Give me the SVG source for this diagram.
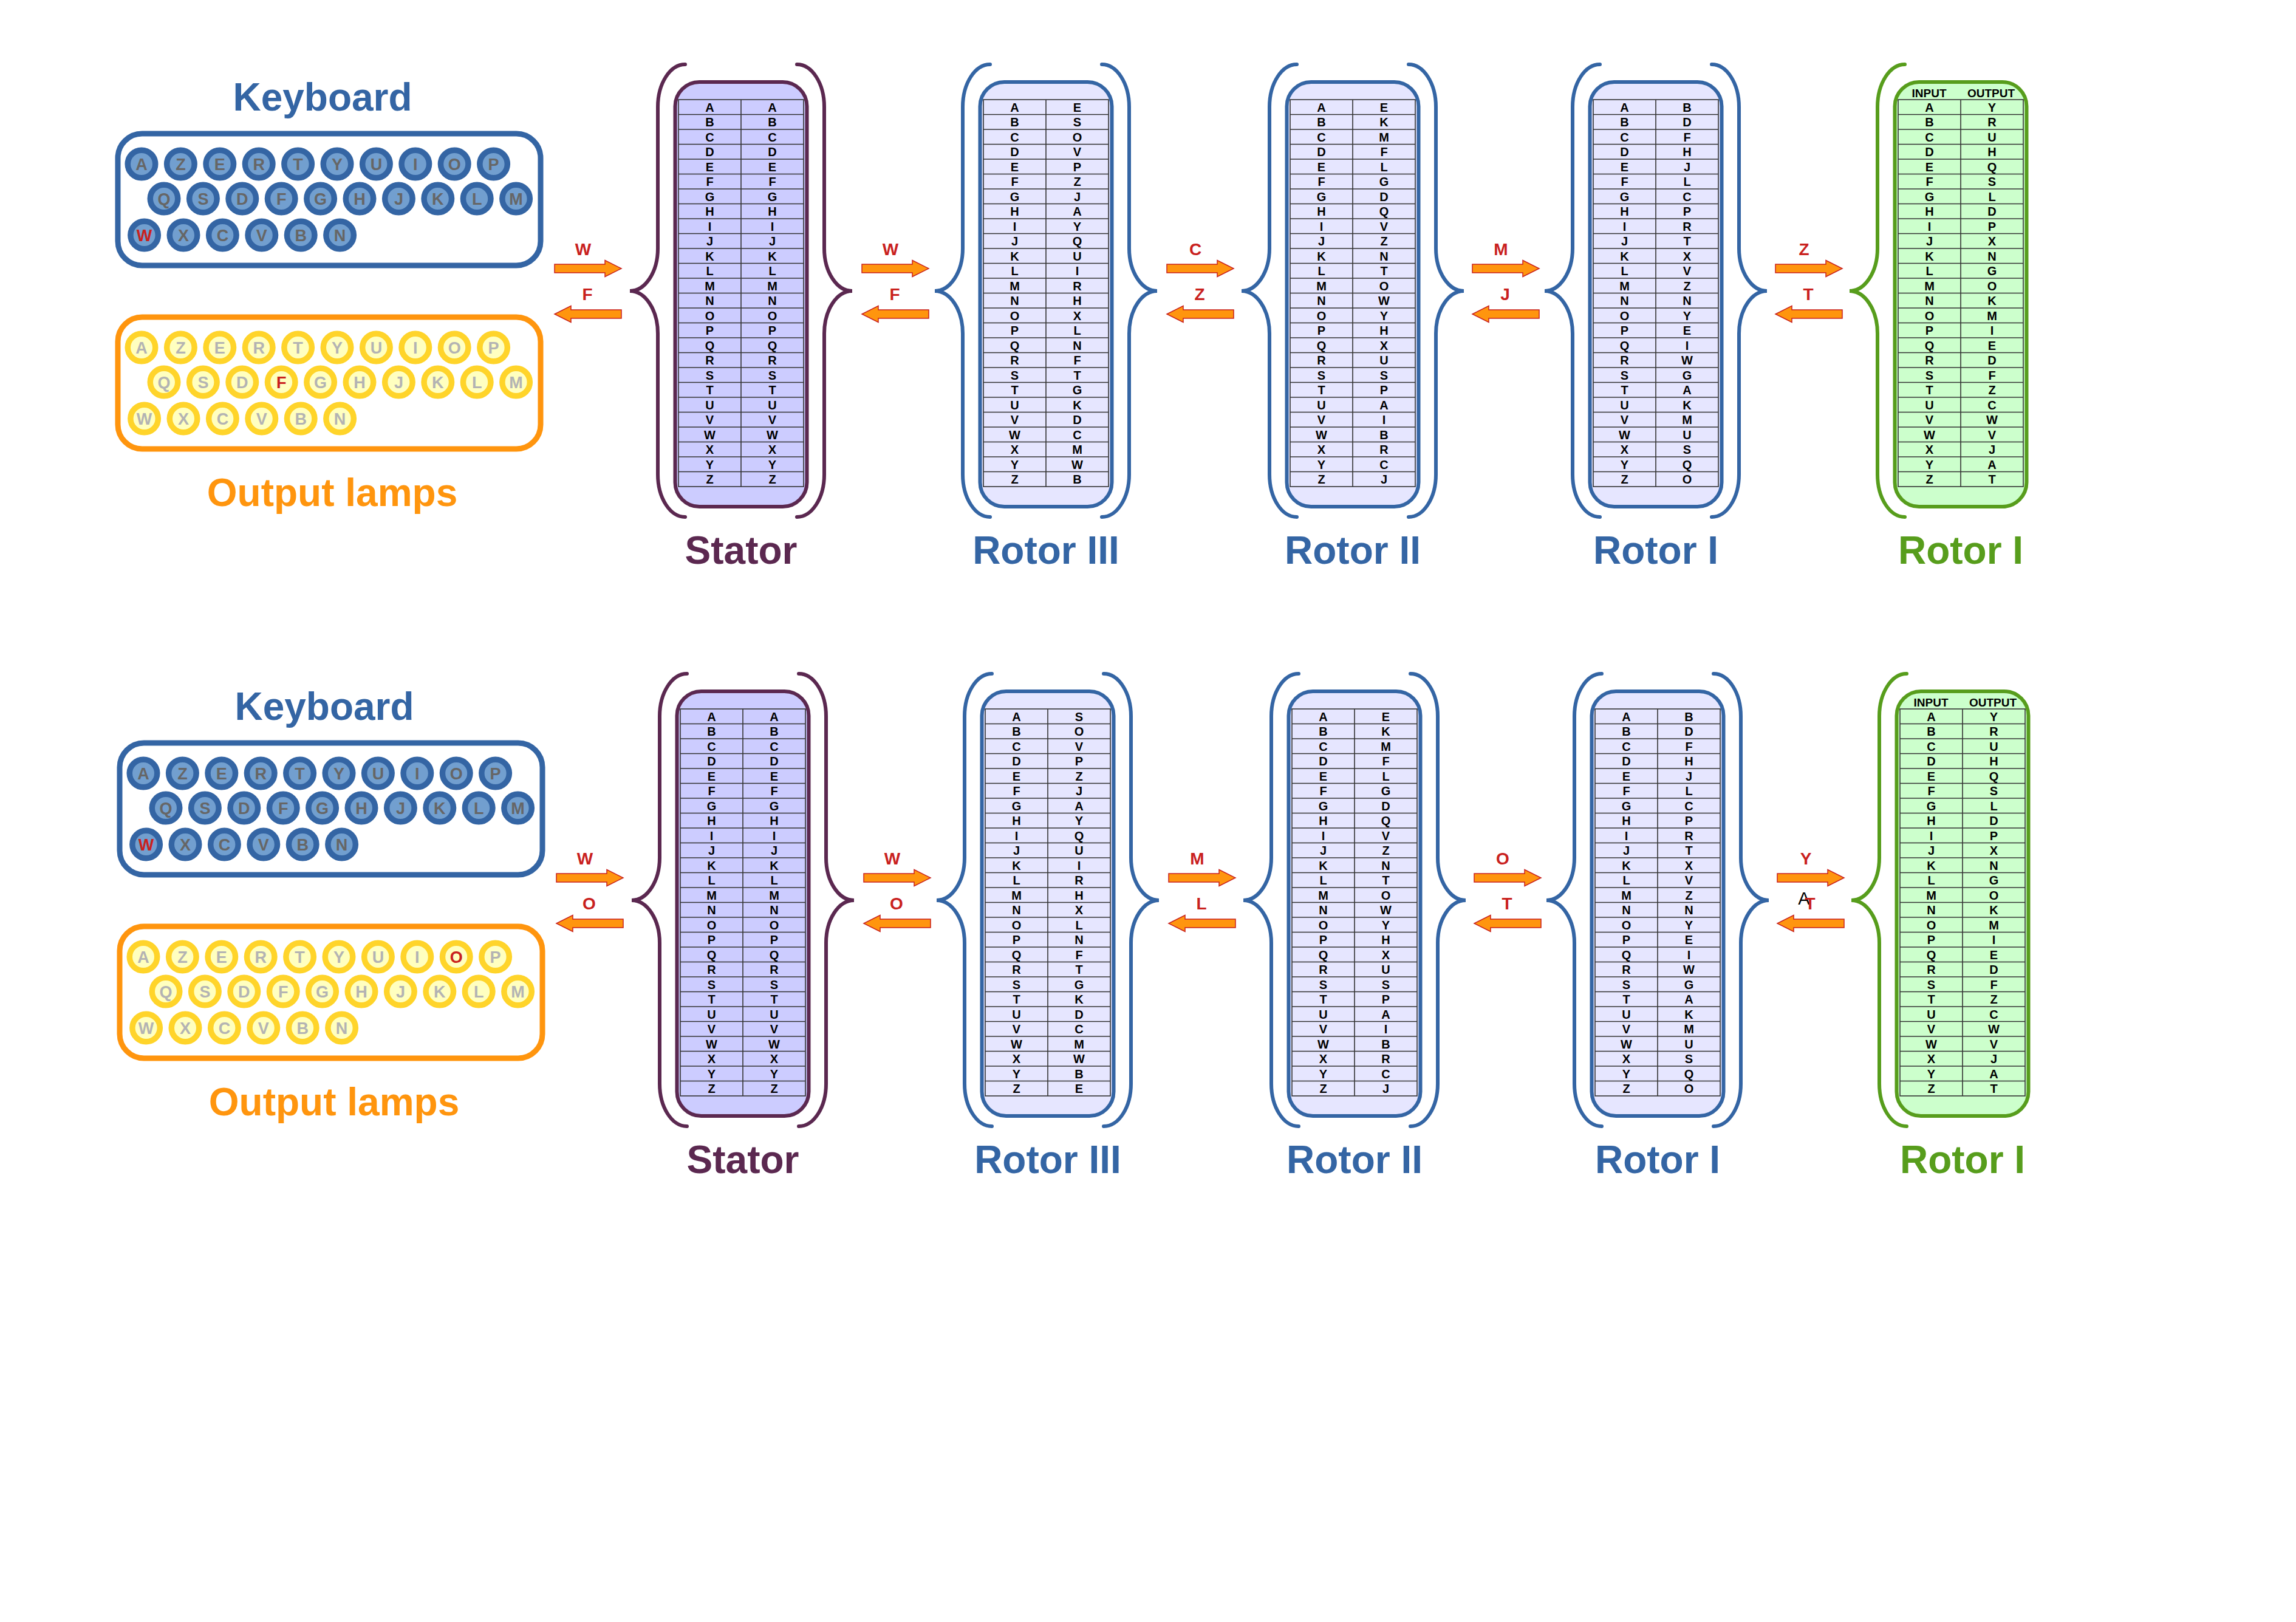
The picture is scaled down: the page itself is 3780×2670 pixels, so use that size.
<svg xmlns="http://www.w3.org/2000/svg" xmlns:xlink="http://www.w3.org/1999/xlink" width="3780" height="2670" viewBox="0 0 3780 2670">
<style>
text{font-family:"Liberation Sans",Arial,sans-serif}
.title{font-size:64px;font-weight:bold;text-anchor:middle}
.kb{fill:#3465a4}
.ol{fill:#ff950e}
.panel{fill:#fff;stroke-width:9}
.kring{fill:#729fcf;stroke:#3465a4;stroke-width:9.5}
.lring{fill:#ffffc0;stroke:#ffd42a;stroke-width:9.5}
.kl{font-size:27px;font-weight:bold;text-anchor:middle;fill:#666}
.ll{font-size:27px;font-weight:bold;text-anchor:middle;fill:#b3b3b3}
.hot{fill:#c9211e}
.tbl text{font-size:20px;font-weight:bold;text-anchor:middle;fill:#000}
.grid{fill:none;stroke:#333;stroke-width:1.6}
.brace{fill:none;stroke-width:6;stroke-linecap:round}
.arrow{fill:#ff950e;stroke:#c9211e;stroke-width:1.5}
.al{font-size:28px;font-weight:bold;text-anchor:middle;fill:#c9211e}
.pur{stroke:#5b2850}.blu{stroke:#3465a4}.grn{stroke:#579d1c}
</style>
<defs>
<circle id="key" r="22.75"/>
<path id="braceL" d="M-92,106A45 70 0 0 0 -137,176L-137,409A46 70 0 0 1 -183,479A46 70 0 0 1 -137,549L-137,781A45 70 0 0 0 -92,851"/>
<g id="grid" class="grid"><rect x="-103" y="164" width="206" height="637"/><path d="M0,164V801M-103,188.5H103M-103,213H103M-103,237.5H103M-103,262H103M-103,286.5H103M-103,311H103M-103,335.5H103M-103,360H103M-103,384.5H103M-103,409H103M-103,433.5H103M-103,458H103M-103,482.5H103M-103,507H103M-103,531.5H103M-103,556H103M-103,580.5H103M-103,605H103M-103,629.5H103M-103,654H103M-103,678.5H103M-103,703H103M-103,727.5H103M-103,752H103M-103,776.5H103"/></g>
<path id="arR" d="M0,-7H83V-13.5L110,0L83,13.5V7H0Z"/>
<path id="arL" d="M110,-7H27V-13.5L0,0L27,13.5V7H110Z"/>
</defs>
<rect width="3780" height="2670" fill="#fff"/>

<!-- ============ TOP ROW ============ -->
<g id="keyboard-1">
<text class="title kb" x="531" y="182">Keyboard</text>
<rect class="panel" x="194" y="220" width="696" height="217" rx="40" stroke="#3465a4"/>
<use href="#key" class="kring" x="233" y="270"/><use href="#key" class="kring" x="297.4" y="270"/><use href="#key" class="kring" x="361.8" y="270"/><use href="#key" class="kring" x="426.2" y="270"/><use href="#key" class="kring" x="490.6" y="270"/><use href="#key" class="kring" x="555" y="270"/><use href="#key" class="kring" x="619.4" y="270"/><use href="#key" class="kring" x="683.8" y="270"/><use href="#key" class="kring" x="748.2" y="270"/><use href="#key" class="kring" x="812.6" y="270"/>
<use href="#key" class="kring" x="270" y="327"/><use href="#key" class="kring" x="334.4" y="327"/><use href="#key" class="kring" x="398.8" y="327"/><use href="#key" class="kring" x="463.2" y="327"/><use href="#key" class="kring" x="527.6" y="327"/><use href="#key" class="kring" x="592" y="327"/><use href="#key" class="kring" x="656.4" y="327"/><use href="#key" class="kring" x="720.8" y="327"/><use href="#key" class="kring" x="785.2" y="327"/><use href="#key" class="kring" x="849.6" y="327"/>
<use href="#key" class="kring" x="237.6" y="387"/><use href="#key" class="kring" x="302" y="387"/><use href="#key" class="kring" x="366.4" y="387"/><use href="#key" class="kring" x="430.8" y="387"/><use href="#key" class="kring" x="495.2" y="387"/><use href="#key" class="kring" x="559.6" y="387"/>
<text class="kl" x="233" y="279.7">A</text><text class="kl" x="297.4" y="279.7">Z</text><text class="kl" x="361.8" y="279.7">E</text><text class="kl" x="426.2" y="279.7">R</text><text class="kl" x="490.6" y="279.7">T</text><text class="kl" x="555" y="279.7">Y</text><text class="kl" x="619.4" y="279.7">U</text><text class="kl" x="683.8" y="279.7">I</text><text class="kl" x="748.2" y="279.7">O</text><text class="kl" x="812.6" y="279.7">P</text>
<text class="kl" x="270" y="336.7">Q</text><text class="kl" x="334.4" y="336.7">S</text><text class="kl" x="398.8" y="336.7">D</text><text class="kl" x="463.2" y="336.7">F</text><text class="kl" x="527.6" y="336.7">G</text><text class="kl" x="592" y="336.7">H</text><text class="kl" x="656.4" y="336.7">J</text><text class="kl" x="720.8" y="336.7">K</text><text class="kl" x="785.2" y="336.7">L</text><text class="kl" x="849.6" y="336.7">M</text>
<text class="kl hot" x="237.6" y="396.7">W</text><text class="kl" x="302" y="396.7">X</text><text class="kl" x="366.4" y="396.7">C</text><text class="kl" x="430.8" y="396.7">V</text><text class="kl" x="495.2" y="396.7">B</text><text class="kl" x="559.6" y="396.7">N</text>
</g>

<g id="lamps-1">
<rect class="panel" x="194" y="522" width="696" height="217" rx="40" stroke="#ff950e"/>
<use href="#key" class="lring" x="233" y="572"/><use href="#key" class="lring" x="297.4" y="572"/><use href="#key" class="lring" x="361.8" y="572"/><use href="#key" class="lring" x="426.2" y="572"/><use href="#key" class="lring" x="490.6" y="572"/><use href="#key" class="lring" x="555" y="572"/><use href="#key" class="lring" x="619.4" y="572"/><use href="#key" class="lring" x="683.8" y="572"/><use href="#key" class="lring" x="748.2" y="572"/><use href="#key" class="lring" x="812.6" y="572"/>
<use href="#key" class="lring" x="270" y="629"/><use href="#key" class="lring" x="334.4" y="629"/><use href="#key" class="lring" x="398.8" y="629"/><use href="#key" class="lring" x="463.2" y="629"/><use href="#key" class="lring" x="527.6" y="629"/><use href="#key" class="lring" x="592" y="629"/><use href="#key" class="lring" x="656.4" y="629"/><use href="#key" class="lring" x="720.8" y="629"/><use href="#key" class="lring" x="785.2" y="629"/><use href="#key" class="lring" x="849.6" y="629"/>
<use href="#key" class="lring" x="237.6" y="689"/><use href="#key" class="lring" x="302" y="689"/><use href="#key" class="lring" x="366.4" y="689"/><use href="#key" class="lring" x="430.8" y="689"/><use href="#key" class="lring" x="495.2" y="689"/><use href="#key" class="lring" x="559.6" y="689"/>
<text class="ll" x="233" y="581.7">A</text><text class="ll" x="297.4" y="581.7">Z</text><text class="ll" x="361.8" y="581.7">E</text><text class="ll" x="426.2" y="581.7">R</text><text class="ll" x="490.6" y="581.7">T</text><text class="ll" x="555" y="581.7">Y</text><text class="ll" x="619.4" y="581.7">U</text><text class="ll" x="683.8" y="581.7">I</text><text class="ll" x="748.2" y="581.7">O</text><text class="ll" x="812.6" y="581.7">P</text>
<text class="ll" x="270" y="638.7">Q</text><text class="ll" x="334.4" y="638.7">S</text><text class="ll" x="398.8" y="638.7">D</text><text class="ll hot" x="463.2" y="638.7">F</text><text class="ll" x="527.6" y="638.7">G</text><text class="ll" x="592" y="638.7">H</text><text class="ll" x="656.4" y="638.7">J</text><text class="ll" x="720.8" y="638.7">K</text><text class="ll" x="785.2" y="638.7">L</text><text class="ll" x="849.6" y="638.7">M</text>
<text class="ll" x="237.6" y="698.7">W</text><text class="ll" x="302" y="698.7">X</text><text class="ll" x="366.4" y="698.7">C</text><text class="ll" x="430.8" y="698.7">V</text><text class="ll" x="495.2" y="698.7">B</text><text class="ll" x="559.6" y="698.7">N</text>
<text class="title ol" x="547" y="833">Output lamps</text>
</g>

<g id="stator-1" transform="translate(1220,0)">
<rect x="-108.5" y="135" width="217" height="699" rx="40" fill="#ccccff" stroke="#5b2850" stroke-width="6"/>
<g class="tbl"><use href="#grid"/>
<g transform="translate(-51.5,0)"><text y="183.5">A</text><text y="208">B</text><text y="232.5">C</text><text y="257">D</text><text y="281.5">E</text><text y="306">F</text><text y="330.5">G</text><text y="355">H</text><text y="379.5">I</text><text y="404">J</text><text y="428.5">K</text><text y="453">L</text><text y="477.5">M</text><text y="502">N</text><text y="526.5">O</text><text y="551">P</text><text y="575.5">Q</text><text y="600">R</text><text y="624.5">S</text><text y="649">T</text><text y="673.5">U</text><text y="698">V</text><text y="722.5">W</text><text y="747">X</text><text y="771.5">Y</text><text y="796">Z</text></g>
<g transform="translate(51.5,0)"><text y="183.5">A</text><text y="208">B</text><text y="232.5">C</text><text y="257">D</text><text y="281.5">E</text><text y="306">F</text><text y="330.5">G</text><text y="355">H</text><text y="379.5">I</text><text y="404">J</text><text y="428.5">K</text><text y="453">L</text><text y="477.5">M</text><text y="502">N</text><text y="526.5">O</text><text y="551">P</text><text y="575.5">Q</text><text y="600">R</text><text y="624.5">S</text><text y="649">T</text><text y="673.5">U</text><text y="698">V</text><text y="722.5">W</text><text y="747">X</text><text y="771.5">Y</text><text y="796">Z</text></g>
</g>
<use href="#braceL" class="brace pur"/><use href="#braceL" class="brace pur" transform="scale(-1,1)"/>
<text class="title" y="928" fill="#5b2850">Stator</text>
</g>

<g id="rotor3-1" transform="translate(1722,0)">
<rect x="-108.5" y="135" width="217" height="699" rx="40" fill="#e6e6ff" stroke="#3465a4" stroke-width="6"/>
<g class="tbl"><use href="#grid"/>
<g transform="translate(-51.5,0)"><text y="183.5">A</text><text y="208">B</text><text y="232.5">C</text><text y="257">D</text><text y="281.5">E</text><text y="306">F</text><text y="330.5">G</text><text y="355">H</text><text y="379.5">I</text><text y="404">J</text><text y="428.5">K</text><text y="453">L</text><text y="477.5">M</text><text y="502">N</text><text y="526.5">O</text><text y="551">P</text><text y="575.5">Q</text><text y="600">R</text><text y="624.5">S</text><text y="649">T</text><text y="673.5">U</text><text y="698">V</text><text y="722.5">W</text><text y="747">X</text><text y="771.5">Y</text><text y="796">Z</text></g>
<g transform="translate(51.5,0)"><text y="183.5">E</text><text y="208">S</text><text y="232.5">O</text><text y="257">V</text><text y="281.5">P</text><text y="306">Z</text><text y="330.5">J</text><text y="355">A</text><text y="379.5">Y</text><text y="404">Q</text><text y="428.5">U</text><text y="453">I</text><text y="477.5">R</text><text y="502">H</text><text y="526.5">X</text><text y="551">L</text><text y="575.5">N</text><text y="600">F</text><text y="624.5">T</text><text y="649">G</text><text y="673.5">K</text><text y="698">D</text><text y="722.5">C</text><text y="747">M</text><text y="771.5">W</text><text y="796">B</text></g>
</g>
<use href="#braceL" class="brace blu"/><use href="#braceL" class="brace blu" transform="scale(-1,1)"/>
<text class="title kb" y="928">Rotor III</text>
</g>

<g id="rotor2-1" transform="translate(2227,0)">
<rect x="-108.5" y="135" width="217" height="699" rx="40" fill="#e6e6ff" stroke="#3465a4" stroke-width="6"/>
<g class="tbl"><use href="#grid"/>
<g transform="translate(-51.5,0)"><text y="183.5">A</text><text y="208">B</text><text y="232.5">C</text><text y="257">D</text><text y="281.5">E</text><text y="306">F</text><text y="330.5">G</text><text y="355">H</text><text y="379.5">I</text><text y="404">J</text><text y="428.5">K</text><text y="453">L</text><text y="477.5">M</text><text y="502">N</text><text y="526.5">O</text><text y="551">P</text><text y="575.5">Q</text><text y="600">R</text><text y="624.5">S</text><text y="649">T</text><text y="673.5">U</text><text y="698">V</text><text y="722.5">W</text><text y="747">X</text><text y="771.5">Y</text><text y="796">Z</text></g>
<g transform="translate(51.5,0)"><text y="183.5">E</text><text y="208">K</text><text y="232.5">M</text><text y="257">F</text><text y="281.5">L</text><text y="306">G</text><text y="330.5">D</text><text y="355">Q</text><text y="379.5">V</text><text y="404">Z</text><text y="428.5">N</text><text y="453">T</text><text y="477.5">O</text><text y="502">W</text><text y="526.5">Y</text><text y="551">H</text><text y="575.5">X</text><text y="600">U</text><text y="624.5">S</text><text y="649">P</text><text y="673.5">A</text><text y="698">I</text><text y="722.5">B</text><text y="747">R</text><text y="771.5">C</text><text y="796">J</text></g>
</g>
<use href="#braceL" class="brace blu"/><use href="#braceL" class="brace blu" transform="scale(-1,1)"/>
<text class="title kb" y="928">Rotor II</text>
</g>

<g id="rotor1-1" transform="translate(2726,0)">
<rect x="-108.5" y="135" width="217" height="699" rx="40" fill="#e6e6ff" stroke="#3465a4" stroke-width="6"/>
<g class="tbl"><use href="#grid"/>
<g transform="translate(-51.5,0)"><text y="183.5">A</text><text y="208">B</text><text y="232.5">C</text><text y="257">D</text><text y="281.5">E</text><text y="306">F</text><text y="330.5">G</text><text y="355">H</text><text y="379.5">I</text><text y="404">J</text><text y="428.5">K</text><text y="453">L</text><text y="477.5">M</text><text y="502">N</text><text y="526.5">O</text><text y="551">P</text><text y="575.5">Q</text><text y="600">R</text><text y="624.5">S</text><text y="649">T</text><text y="673.5">U</text><text y="698">V</text><text y="722.5">W</text><text y="747">X</text><text y="771.5">Y</text><text y="796">Z</text></g>
<g transform="translate(51.5,0)"><text y="183.5">B</text><text y="208">D</text><text y="232.5">F</text><text y="257">H</text><text y="281.5">J</text><text y="306">L</text><text y="330.5">C</text><text y="355">P</text><text y="379.5">R</text><text y="404">T</text><text y="428.5">X</text><text y="453">V</text><text y="477.5">Z</text><text y="502">N</text><text y="526.5">Y</text><text y="551">E</text><text y="575.5">I</text><text y="600">W</text><text y="624.5">G</text><text y="649">A</text><text y="673.5">K</text><text y="698">M</text><text y="722.5">U</text><text y="747">S</text><text y="771.5">Q</text><text y="796">O</text></g>
</g>
<use href="#braceL" class="brace blu"/><use href="#braceL" class="brace blu" transform="scale(-1,1)"/>
<text class="title kb" y="928">Rotor I</text>
</g>

<g id="reflector-1" transform="translate(3228,0)">
<rect x="-108.5" y="135" width="217" height="699" rx="40" fill="#ccffcc" stroke="#579d1c" stroke-width="6"/>
<g class="tbl"><use href="#grid"/>
<text x="-52" y="160" style="font-size:19px">INPUT</text><text x="50" y="160" style="font-size:19px">OUTPUT</text>
<g transform="translate(-51.5,0)"><text y="183.5">A</text><text y="208">B</text><text y="232.5">C</text><text y="257">D</text><text y="281.5">E</text><text y="306">F</text><text y="330.5">G</text><text y="355">H</text><text y="379.5">I</text><text y="404">J</text><text y="428.5">K</text><text y="453">L</text><text y="477.5">M</text><text y="502">N</text><text y="526.5">O</text><text y="551">P</text><text y="575.5">Q</text><text y="600">R</text><text y="624.5">S</text><text y="649">T</text><text y="673.5">U</text><text y="698">V</text><text y="722.5">W</text><text y="747">X</text><text y="771.5">Y</text><text y="796">Z</text></g>
<g transform="translate(51.5,0)"><text y="183.5">Y</text><text y="208">R</text><text y="232.5">U</text><text y="257">H</text><text y="281.5">Q</text><text y="306">S</text><text y="330.5">L</text><text y="355">D</text><text y="379.5">P</text><text y="404">X</text><text y="428.5">N</text><text y="453">G</text><text y="477.5">O</text><text y="502">K</text><text y="526.5">M</text><text y="551">I</text><text y="575.5">E</text><text y="600">D</text><text y="624.5">F</text><text y="649">Z</text><text y="673.5">C</text><text y="698">W</text><text y="722.5">V</text><text y="747">J</text><text y="771.5">A</text><text y="796">T</text></g>
</g>
<use href="#braceL" class="brace grn"/>
<text class="title" y="928" fill="#579d1c">Rotor I</text>
</g>

<!-- ============ BOTTOM ROW ============ -->
<g transform="translate(3,1003)">
<g id="keyboard-2">
<text class="title kb" x="531" y="182">Keyboard</text>
<rect class="panel" x="194" y="220" width="696" height="217" rx="40" stroke="#3465a4"/>
<use href="#key" class="kring" x="233" y="270"/><use href="#key" class="kring" x="297.4" y="270"/><use href="#key" class="kring" x="361.8" y="270"/><use href="#key" class="kring" x="426.2" y="270"/><use href="#key" class="kring" x="490.6" y="270"/><use href="#key" class="kring" x="555" y="270"/><use href="#key" class="kring" x="619.4" y="270"/><use href="#key" class="kring" x="683.8" y="270"/><use href="#key" class="kring" x="748.2" y="270"/><use href="#key" class="kring" x="812.6" y="270"/>
<use href="#key" class="kring" x="270" y="327"/><use href="#key" class="kring" x="334.4" y="327"/><use href="#key" class="kring" x="398.8" y="327"/><use href="#key" class="kring" x="463.2" y="327"/><use href="#key" class="kring" x="527.6" y="327"/><use href="#key" class="kring" x="592" y="327"/><use href="#key" class="kring" x="656.4" y="327"/><use href="#key" class="kring" x="720.8" y="327"/><use href="#key" class="kring" x="785.2" y="327"/><use href="#key" class="kring" x="849.6" y="327"/>
<use href="#key" class="kring" x="237.6" y="387"/><use href="#key" class="kring" x="302" y="387"/><use href="#key" class="kring" x="366.4" y="387"/><use href="#key" class="kring" x="430.8" y="387"/><use href="#key" class="kring" x="495.2" y="387"/><use href="#key" class="kring" x="559.6" y="387"/>
<text class="kl" x="233" y="279.7">A</text><text class="kl" x="297.4" y="279.7">Z</text><text class="kl" x="361.8" y="279.7">E</text><text class="kl" x="426.2" y="279.7">R</text><text class="kl" x="490.6" y="279.7">T</text><text class="kl" x="555" y="279.7">Y</text><text class="kl" x="619.4" y="279.7">U</text><text class="kl" x="683.8" y="279.7">I</text><text class="kl" x="748.2" y="279.7">O</text><text class="kl" x="812.6" y="279.7">P</text>
<text class="kl" x="270" y="336.7">Q</text><text class="kl" x="334.4" y="336.7">S</text><text class="kl" x="398.8" y="336.7">D</text><text class="kl" x="463.2" y="336.7">F</text><text class="kl" x="527.6" y="336.7">G</text><text class="kl" x="592" y="336.7">H</text><text class="kl" x="656.4" y="336.7">J</text><text class="kl" x="720.8" y="336.7">K</text><text class="kl" x="785.2" y="336.7">L</text><text class="kl" x="849.6" y="336.7">M</text>
<text class="kl hot" x="237.6" y="396.7">W</text><text class="kl" x="302" y="396.7">X</text><text class="kl" x="366.4" y="396.7">C</text><text class="kl" x="430.8" y="396.7">V</text><text class="kl" x="495.2" y="396.7">B</text><text class="kl" x="559.6" y="396.7">N</text>
</g>

<g id="lamps-2">
<rect class="panel" x="194" y="522" width="696" height="217" rx="40" stroke="#ff950e"/>
<use href="#key" class="lring" x="233" y="572"/><use href="#key" class="lring" x="297.4" y="572"/><use href="#key" class="lring" x="361.8" y="572"/><use href="#key" class="lring" x="426.2" y="572"/><use href="#key" class="lring" x="490.6" y="572"/><use href="#key" class="lring" x="555" y="572"/><use href="#key" class="lring" x="619.4" y="572"/><use href="#key" class="lring" x="683.8" y="572"/><use href="#key" class="lring" x="748.2" y="572"/><use href="#key" class="lring" x="812.6" y="572"/>
<use href="#key" class="lring" x="270" y="629"/><use href="#key" class="lring" x="334.4" y="629"/><use href="#key" class="lring" x="398.8" y="629"/><use href="#key" class="lring" x="463.2" y="629"/><use href="#key" class="lring" x="527.6" y="629"/><use href="#key" class="lring" x="592" y="629"/><use href="#key" class="lring" x="656.4" y="629"/><use href="#key" class="lring" x="720.8" y="629"/><use href="#key" class="lring" x="785.2" y="629"/><use href="#key" class="lring" x="849.6" y="629"/>
<use href="#key" class="lring" x="237.6" y="689"/><use href="#key" class="lring" x="302" y="689"/><use href="#key" class="lring" x="366.4" y="689"/><use href="#key" class="lring" x="430.8" y="689"/><use href="#key" class="lring" x="495.2" y="689"/><use href="#key" class="lring" x="559.6" y="689"/>
<text class="ll" x="233" y="581.7">A</text><text class="ll" x="297.4" y="581.7">Z</text><text class="ll" x="361.8" y="581.7">E</text><text class="ll" x="426.2" y="581.7">R</text><text class="ll" x="490.6" y="581.7">T</text><text class="ll" x="555" y="581.7">Y</text><text class="ll" x="619.4" y="581.7">U</text><text class="ll" x="683.8" y="581.7">I</text><text class="ll hot" x="748.2" y="581.7">O</text><text class="ll" x="812.6" y="581.7">P</text>
<text class="ll" x="270" y="638.7">Q</text><text class="ll" x="334.4" y="638.7">S</text><text class="ll" x="398.8" y="638.7">D</text><text class="ll" x="463.2" y="638.7">F</text><text class="ll" x="527.6" y="638.7">G</text><text class="ll" x="592" y="638.7">H</text><text class="ll" x="656.4" y="638.7">J</text><text class="ll" x="720.8" y="638.7">K</text><text class="ll" x="785.2" y="638.7">L</text><text class="ll" x="849.6" y="638.7">M</text>
<text class="ll" x="237.6" y="698.7">W</text><text class="ll" x="302" y="698.7">X</text><text class="ll" x="366.4" y="698.7">C</text><text class="ll" x="430.8" y="698.7">V</text><text class="ll" x="495.2" y="698.7">B</text><text class="ll" x="559.6" y="698.7">N</text>
<text class="title ol" x="547" y="833">Output lamps</text>
</g>

<g id="stator-2" transform="translate(1220,0)">
<rect x="-108.5" y="135" width="217" height="699" rx="40" fill="#ccccff" stroke="#5b2850" stroke-width="6"/>
<g class="tbl"><use href="#grid"/>
<g transform="translate(-51.5,0)"><text y="183.5">A</text><text y="208">B</text><text y="232.5">C</text><text y="257">D</text><text y="281.5">E</text><text y="306">F</text><text y="330.5">G</text><text y="355">H</text><text y="379.5">I</text><text y="404">J</text><text y="428.5">K</text><text y="453">L</text><text y="477.5">M</text><text y="502">N</text><text y="526.5">O</text><text y="551">P</text><text y="575.5">Q</text><text y="600">R</text><text y="624.5">S</text><text y="649">T</text><text y="673.5">U</text><text y="698">V</text><text y="722.5">W</text><text y="747">X</text><text y="771.5">Y</text><text y="796">Z</text></g>
<g transform="translate(51.5,0)"><text y="183.5">A</text><text y="208">B</text><text y="232.5">C</text><text y="257">D</text><text y="281.5">E</text><text y="306">F</text><text y="330.5">G</text><text y="355">H</text><text y="379.5">I</text><text y="404">J</text><text y="428.5">K</text><text y="453">L</text><text y="477.5">M</text><text y="502">N</text><text y="526.5">O</text><text y="551">P</text><text y="575.5">Q</text><text y="600">R</text><text y="624.5">S</text><text y="649">T</text><text y="673.5">U</text><text y="698">V</text><text y="722.5">W</text><text y="747">X</text><text y="771.5">Y</text><text y="796">Z</text></g>
</g>
<use href="#braceL" class="brace pur"/><use href="#braceL" class="brace pur" transform="scale(-1,1)"/>
<text class="title" y="928" fill="#5b2850">Stator</text>
</g>

<g id="rotor3-2" transform="translate(1722,0)">
<rect x="-108.5" y="135" width="217" height="699" rx="40" fill="#e6e6ff" stroke="#3465a4" stroke-width="6"/>
<g class="tbl"><use href="#grid"/>
<g transform="translate(-51.5,0)"><text y="183.5">A</text><text y="208">B</text><text y="232.5">C</text><text y="257">D</text><text y="281.5">E</text><text y="306">F</text><text y="330.5">G</text><text y="355">H</text><text y="379.5">I</text><text y="404">J</text><text y="428.5">K</text><text y="453">L</text><text y="477.5">M</text><text y="502">N</text><text y="526.5">O</text><text y="551">P</text><text y="575.5">Q</text><text y="600">R</text><text y="624.5">S</text><text y="649">T</text><text y="673.5">U</text><text y="698">V</text><text y="722.5">W</text><text y="747">X</text><text y="771.5">Y</text><text y="796">Z</text></g>
<g transform="translate(51.5,0)"><text y="183.5">S</text><text y="208">O</text><text y="232.5">V</text><text y="257">P</text><text y="281.5">Z</text><text y="306">J</text><text y="330.5">A</text><text y="355">Y</text><text y="379.5">Q</text><text y="404">U</text><text y="428.5">I</text><text y="453">R</text><text y="477.5">H</text><text y="502">X</text><text y="526.5">L</text><text y="551">N</text><text y="575.5">F</text><text y="600">T</text><text y="624.5">G</text><text y="649">K</text><text y="673.5">D</text><text y="698">C</text><text y="722.5">M</text><text y="747">W</text><text y="771.5">B</text><text y="796">E</text></g>
</g>
<use href="#braceL" class="brace blu"/><use href="#braceL" class="brace blu" transform="scale(-1,1)"/>
<text class="title kb" y="928">Rotor III</text>
</g>

<g id="rotor2-2" transform="translate(2227,0)">
<rect x="-108.5" y="135" width="217" height="699" rx="40" fill="#e6e6ff" stroke="#3465a4" stroke-width="6"/>
<g class="tbl"><use href="#grid"/>
<g transform="translate(-51.5,0)"><text y="183.5">A</text><text y="208">B</text><text y="232.5">C</text><text y="257">D</text><text y="281.5">E</text><text y="306">F</text><text y="330.5">G</text><text y="355">H</text><text y="379.5">I</text><text y="404">J</text><text y="428.5">K</text><text y="453">L</text><text y="477.5">M</text><text y="502">N</text><text y="526.5">O</text><text y="551">P</text><text y="575.5">Q</text><text y="600">R</text><text y="624.5">S</text><text y="649">T</text><text y="673.5">U</text><text y="698">V</text><text y="722.5">W</text><text y="747">X</text><text y="771.5">Y</text><text y="796">Z</text></g>
<g transform="translate(51.5,0)"><text y="183.5">E</text><text y="208">K</text><text y="232.5">M</text><text y="257">F</text><text y="281.5">L</text><text y="306">G</text><text y="330.5">D</text><text y="355">Q</text><text y="379.5">V</text><text y="404">Z</text><text y="428.5">N</text><text y="453">T</text><text y="477.5">O</text><text y="502">W</text><text y="526.5">Y</text><text y="551">H</text><text y="575.5">X</text><text y="600">U</text><text y="624.5">S</text><text y="649">P</text><text y="673.5">A</text><text y="698">I</text><text y="722.5">B</text><text y="747">R</text><text y="771.5">C</text><text y="796">J</text></g>
</g>
<use href="#braceL" class="brace blu"/><use href="#braceL" class="brace blu" transform="scale(-1,1)"/>
<text class="title kb" y="928">Rotor II</text>
</g>

<g id="rotor1-2" transform="translate(2726,0)">
<rect x="-108.5" y="135" width="217" height="699" rx="40" fill="#e6e6ff" stroke="#3465a4" stroke-width="6"/>
<g class="tbl"><use href="#grid"/>
<g transform="translate(-51.5,0)"><text y="183.5">A</text><text y="208">B</text><text y="232.5">C</text><text y="257">D</text><text y="281.5">E</text><text y="306">F</text><text y="330.5">G</text><text y="355">H</text><text y="379.5">I</text><text y="404">J</text><text y="428.5">K</text><text y="453">L</text><text y="477.5">M</text><text y="502">N</text><text y="526.5">O</text><text y="551">P</text><text y="575.5">Q</text><text y="600">R</text><text y="624.5">S</text><text y="649">T</text><text y="673.5">U</text><text y="698">V</text><text y="722.5">W</text><text y="747">X</text><text y="771.5">Y</text><text y="796">Z</text></g>
<g transform="translate(51.5,0)"><text y="183.5">B</text><text y="208">D</text><text y="232.5">F</text><text y="257">H</text><text y="281.5">J</text><text y="306">L</text><text y="330.5">C</text><text y="355">P</text><text y="379.5">R</text><text y="404">T</text><text y="428.5">X</text><text y="453">V</text><text y="477.5">Z</text><text y="502">N</text><text y="526.5">Y</text><text y="551">E</text><text y="575.5">I</text><text y="600">W</text><text y="624.5">G</text><text y="649">A</text><text y="673.5">K</text><text y="698">M</text><text y="722.5">U</text><text y="747">S</text><text y="771.5">Q</text><text y="796">O</text></g>
</g>
<use href="#braceL" class="brace blu"/><use href="#braceL" class="brace blu" transform="scale(-1,1)"/>
<text class="title kb" y="928">Rotor I</text>
</g>

<g id="reflector-2" transform="translate(3228,0)">
<rect x="-108.5" y="135" width="217" height="699" rx="40" fill="#ccffcc" stroke="#579d1c" stroke-width="6"/>
<g class="tbl"><use href="#grid"/>
<text x="-52" y="160" style="font-size:19px">INPUT</text><text x="50" y="160" style="font-size:19px">OUTPUT</text>
<g transform="translate(-51.5,0)"><text y="183.5">A</text><text y="208">B</text><text y="232.5">C</text><text y="257">D</text><text y="281.5">E</text><text y="306">F</text><text y="330.5">G</text><text y="355">H</text><text y="379.5">I</text><text y="404">J</text><text y="428.5">K</text><text y="453">L</text><text y="477.5">M</text><text y="502">N</text><text y="526.5">O</text><text y="551">P</text><text y="575.5">Q</text><text y="600">R</text><text y="624.5">S</text><text y="649">T</text><text y="673.5">U</text><text y="698">V</text><text y="722.5">W</text><text y="747">X</text><text y="771.5">Y</text><text y="796">Z</text></g>
<g transform="translate(51.5,0)"><text y="183.5">Y</text><text y="208">R</text><text y="232.5">U</text><text y="257">H</text><text y="281.5">Q</text><text y="306">S</text><text y="330.5">L</text><text y="355">D</text><text y="379.5">P</text><text y="404">X</text><text y="428.5">N</text><text y="453">G</text><text y="477.5">O</text><text y="502">K</text><text y="526.5">M</text><text y="551">I</text><text y="575.5">E</text><text y="600">D</text><text y="624.5">F</text><text y="649">Z</text><text y="673.5">C</text><text y="698">W</text><text y="722.5">V</text><text y="747">J</text><text y="771.5">A</text><text y="796">T</text></g>
</g>
<use href="#braceL" class="brace grn"/>
<text class="title" y="928" fill="#579d1c">Rotor I</text>
</g>
</g>

<!-- ============ CONNECTORS ============ -->
<g id="connectors">
<g id="connectors-1">
<use href="#arR" class="arrow" x="913" y="442"/><use href="#arL" class="arrow" x="913" y="517"/>
<use href="#arR" class="arrow" x="1419" y="442"/><use href="#arL" class="arrow" x="1419" y="517"/>
<use href="#arR" class="arrow" x="1921" y="442"/><use href="#arL" class="arrow" x="1921" y="517"/>
<use href="#arR" class="arrow" x="2424" y="442"/><use href="#arL" class="arrow" x="2424" y="517"/>
<use href="#arR" class="arrow" x="2923" y="442"/><use href="#arL" class="arrow" x="2923" y="517"/>
<text class="al" x="960" y="420">W</text><text class="al" x="967" y="494">F</text>
<text class="al" x="1466" y="420">W</text><text class="al" x="1473" y="494">F</text>
<text class="al" x="1968" y="420">C</text><text class="al" x="1975" y="494">Z</text>
<text class="al" x="2471" y="420">M</text><text class="al" x="2478" y="494">J</text>
<text class="al" x="2970" y="420">Z</text><text class="al" x="2977" y="494">T</text>
</g>
<g id="connectors-2" transform="translate(3,1003)">
<use href="#arR" class="arrow" x="913" y="442"/><use href="#arL" class="arrow" x="913" y="517"/>
<use href="#arR" class="arrow" x="1419" y="442"/><use href="#arL" class="arrow" x="1419" y="517"/>
<use href="#arR" class="arrow" x="1921" y="442"/><use href="#arL" class="arrow" x="1921" y="517"/>
<use href="#arR" class="arrow" x="2424" y="442"/><use href="#arL" class="arrow" x="2424" y="517"/>
<use href="#arR" class="arrow" x="2923" y="442"/><use href="#arL" class="arrow" x="2923" y="517"/>
<text class="al" x="960" y="420">W</text><text class="al" x="967" y="494">O</text>
<text class="al" x="1466" y="420">W</text><text class="al" x="1473" y="494">O</text>
<text class="al" x="1968" y="420">M</text><text class="al" x="1975" y="494">L</text>
<text class="al" x="2471" y="420">O</text><text class="al" x="2478" y="494">T</text>
<text class="al" x="2970" y="420">Y</text>
<text x="2967" y="486" style="font-size:29px;text-anchor:middle;fill:#000">A</text>
<text class="al" x="2977" y="494">T</text>
</g>
</g>
</svg>
